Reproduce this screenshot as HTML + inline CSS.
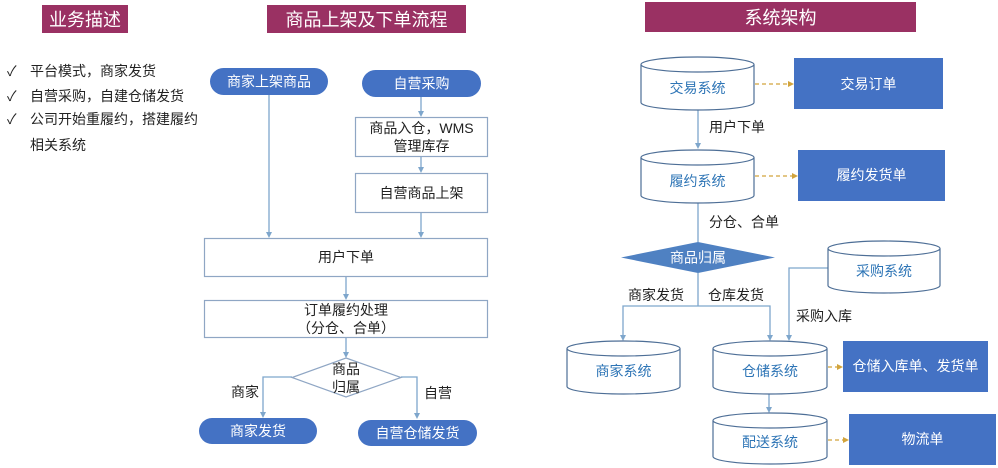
<!DOCTYPE html>
<html><head><meta charset="utf-8">
<style>
html,body{margin:0;padding:0;background:#fff;}
svg{display:block;}
text{font-family:"Liberation Sans","Noto Sans CJK SC",sans-serif;}
</style></head>
<body>
<svg width="998" height="468" viewBox="0 0 998 468" xmlns="http://www.w3.org/2000/svg">
<defs>
<marker id="ab" markerWidth="8" markerHeight="8" refX="4" refY="6" orient="auto" markerUnits="userSpaceOnUse">
</marker>
</defs>
<rect width="998" height="468" fill="#fff"/>

<!-- Headers -->
<rect x="42" y="5" width="86" height="28" fill="#9A3163"/>
<text x="85" y="26" font-size="18" fill="#fff" text-anchor="middle">业务描述</text>
<rect x="267" y="5" width="199" height="28" fill="#9A3163"/>
<text x="366.5" y="26" font-size="18" fill="#fff" text-anchor="middle">商品上架及下单流程</text>
<rect x="645" y="2" width="271" height="30" fill="#9A3163"/>
<text x="780.5" y="24" font-size="18" fill="#fff" text-anchor="middle">系统架构</text>

<!-- Left list -->
<g font-size="14" fill="#222">
<text x="7" y="76">✓</text>
<text x="30" y="76">平台模式，商家发货</text>
<text x="7" y="101">✓</text>
<text x="30" y="101">自营采购，自建仓储发货</text>
<text x="7" y="124">✓</text>
<text x="30" y="124">公司开始重履约，搭建履约</text>
<text x="30" y="150">相关系统</text>
</g>

<!-- Middle flow -->
<g stroke="#7EA6CC" stroke-width="1.3" fill="none">
<line x1="269" y1="95" x2="269" y2="233"/>
<line x1="421" y1="97" x2="421" y2="112"/>
<line x1="421" y1="157" x2="421" y2="168"/>
<line x1="421" y1="213" x2="421" y2="233"/>
<line x1="346" y1="277" x2="346" y2="295"/>
<line x1="346" y1="338" x2="346" y2="353"/>
<polyline points="292,377 263,377 263,413"/>
<polyline points="401,377 417,377 417,414"/>
</g>
<g fill="#7EA6CC">
<polygon points="266,232 272,232 269,238"/>
<polygon points="418,111 424,111 421,117"/>
<polygon points="418,167 424,167 421,173"/>
<polygon points="418,232 424,232 421,238"/>
<polygon points="343,294 349,294 346,300"/>
<polygon points="343,352 349,352 346,358"/>
<polygon points="260,412 266,412 263,418"/>
<polygon points="414,413 420,413 417,419"/>
</g>

<rect x="210" y="68" width="118" height="27" rx="13.5" fill="#4472C4"/>
<text x="269" y="86.5" font-size="14" fill="#fff" text-anchor="middle">商家上架商品</text>
<rect x="362" y="70" width="119" height="27" rx="13.5" fill="#4472C4"/>
<text x="421.5" y="88.5" font-size="14" fill="#fff" text-anchor="middle">自营采购</text>

<g fill="#fff" stroke="#8FA6C4" stroke-width="1.2">
<rect x="355.5" y="117.5" width="132" height="39"/>
<rect x="355.5" y="173.5" width="132" height="39"/>
<rect x="204.5" y="238.5" width="283" height="38"/>
<rect x="204.5" y="300.5" width="283" height="37"/>
<polygon points="346,358 401,377.5 346,397 292,377.5"/>
</g>
<g font-size="14" fill="#222" text-anchor="middle">
<text x="421.5" y="133">商品入仓，WMS</text>
<text x="421.5" y="151">管理库存</text>
<text x="421.5" y="198">自营商品上架</text>
<text x="346" y="262">用户下单</text>
<text x="346" y="315">订单履约处理</text>
<text x="346" y="333">（分仓、合单）</text>
<text x="346" y="374">商品</text>
<text x="346" y="392">归属</text>
<text x="245" y="397">商家</text>
<text x="438" y="398">自营</text>
</g>

<rect x="199" y="418" width="118" height="26" rx="13" fill="#4472C4"/>
<text x="258" y="436" font-size="14" fill="#fff" text-anchor="middle">商家发货</text>
<rect x="358" y="420" width="119" height="26" rx="13" fill="#4472C4"/>
<text x="417.5" y="438" font-size="14" fill="#fff" text-anchor="middle">自营仓储发货</text>

<!-- Right architecture -->
<g stroke="#7EA6CC" stroke-width="1.3" fill="none">
<line x1="698" y1="110" x2="698" y2="143"/>
<line x1="698" y1="203" x2="698" y2="242"/>
<line x1="698" y1="273" x2="698" y2="306"/>
<polyline points="623,336 623,306 770,306 770,336"/>
<polyline points="828,268 789,268 789,336"/>
<line x1="769" y1="394" x2="769" y2="408"/>
</g>
<g fill="#7EA6CC">
<polygon points="695,143 701,143 698,149"/>
<polygon points="620,335 626,335 623,341"/>
<polygon points="767,335 773,335 770,341"/>
<polygon points="786,335 792,335 789,341"/>
<polygon points="766,407 772,407 769,413"/>
</g>

<!-- dashed gold arrows -->
<g stroke="#D2A43C" stroke-width="1.3" stroke-dasharray="4,3" fill="none">
<line x1="755" y1="84" x2="788" y2="84"/>
<line x1="755" y1="176" x2="792" y2="176"/>
<line x1="828" y1="367" x2="837" y2="367"/>
<line x1="828" y1="440" x2="843" y2="440"/>
</g>
<g fill="#D2A43C">
<polygon points="788,81 794,84 788,87"/>
<polygon points="792,173 798,176 792,179"/>
<polygon points="837,364 843,367 837,370"/>
<polygon points="843,437 849,440 843,443"/>
</g>

<!-- cylinders -->
<g fill="#fff" stroke="#4D6E96" stroke-width="1.2">
<path d="M641,64.5 A56.5,7.5 0 0 1 754,64.5 V102.5 A56.5,7.5 0 0 1 641,102.5 Z M641,64.5 A56.5,7.5 0 0 0 754,64.5"/>
<path d="M641,157.5 A56.5,7.5 0 0 1 754,157.5 V195.5 A56.5,7.5 0 0 1 641,195.5 Z M641,157.5 A56.5,7.5 0 0 0 754,157.5"/>
<path d="M828,248.5 A56,7.5 0 0 1 940,248.5 V285.5 A56,7.5 0 0 1 828,285.5 Z M828,248.5 A56,7.5 0 0 0 940,248.5"/>
<path d="M567,348.5 A56.5,7.5 0 0 1 680,348.5 V386.5 A56.5,7.5 0 0 1 567,386.5 Z M567,348.5 A56.5,7.5 0 0 0 680,348.5"/>
<path d="M713,348.5 A57,7.5 0 0 1 827,348.5 V386.5 A57,7.5 0 0 1 713,386.5 Z M713,348.5 A57,7.5 0 0 0 827,348.5"/>
<path d="M713,420.5 A57,7.5 0 0 1 827,420.5 V456.5 A57,7.5 0 0 1 713,456.5 Z M713,420.5 A57,7.5 0 0 0 827,420.5"/>
</g>
<g font-size="14" fill="#2E75B6" text-anchor="middle">
<text x="697.5" y="93">交易系统</text>
<text x="697.5" y="186">履约系统</text>
<text x="884" y="276">采购系统</text>
<text x="623.5" y="376">商家系统</text>
<text x="770" y="376">仓储系统</text>
<text x="770" y="447">配送系统</text>
</g>

<!-- diamond -->
<polygon points="698,242 775,257.5 698,273 621,257.5" fill="#4F81C2"/>
<text x="698" y="262.5" font-size="14" fill="#fff" text-anchor="middle">商品归属</text>

<!-- labels -->
<g font-size="14" fill="#222">
<text x="709" y="132">用户下单</text>
<text x="709" y="227">分仓、合单</text>
<text x="628" y="300">商家发货</text>
<text x="708" y="300">仓库发货</text>
<text x="796" y="321">采购入库</text>
</g>

<!-- blue boxes -->
<g fill="#4472C4">
<rect x="794" y="58" width="149" height="51"/>
<rect x="798" y="150" width="147" height="51"/>
<rect x="843" y="341" width="145" height="51"/>
<rect x="849" y="414" width="147" height="51"/>
</g>
<g font-size="14" fill="#fff" text-anchor="middle">
<text x="868.5" y="89">交易订单</text>
<text x="871.5" y="180">履约发货单</text>
<text x="915.5" y="371">仓储入库单、发货单</text>
<text x="922.5" y="444">物流单</text>
</g>
</svg>
</body></html>
